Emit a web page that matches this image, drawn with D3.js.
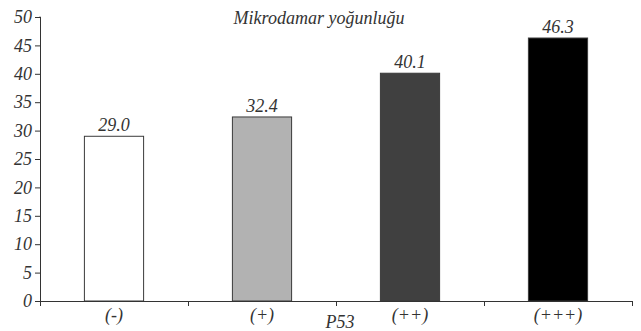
<!DOCTYPE html>
<html><head><meta charset="utf-8">
<script src="https://cdn.jsdelivr.net/npm/d3@7"></script>
<style>html,body{margin:0;padding:0;background:#fff;}</style>
</head><body>
<svg id="c" width="641" height="331"></svg>
<script>
const categories = ["(-)", "(+)", "(++)", "(+++)"];
const values = [29.0, 32.4, 40.1, 46.3];
const valueLabels = ["29.0", "32.4", "40.1", "46.3"];
const barColors = ["#ffffff", "#b2b2b2", "#404040", "#000000"];
const yTicks = [0, 5, 10, 15, 20, 25, 30, 35, 40, 45, 50];
const chartTitle = "Mikrodamar yoğunluğu";
const xTitle = "P53";

const svg = d3.select("#c");
const font = "'Liberation Serif', 'DejaVu Serif', serif";
const fs = 18;
const mLeft = 40, mRight = 632, mTop = 17, mBottom = 301;

const x = d3.scaleBand().domain(categories).range([mLeft, mRight]).paddingInner(0.6).paddingOuter(0.3);
const xb = d3.scaleBand().domain(categories).range([mLeft, mRight]);
const y = d3.scaleLinear().domain([0, 50]).range([mBottom, mTop]);

// bars
svg.selectAll("rect.bar").data(values).enter().append("rect")
  .attr("x", (d, i) => x(categories[i]))
  .attr("y", d => y(d))
  .attr("width", x.bandwidth())
  .attr("height", d => y(0) - y(d))
  .attr("fill", (d, i) => barColors[i])
  .attr("stroke", "#3a3a3a").attr("stroke-width", 1);

// value labels
svg.selectAll("text.val").data(values).enter().append("text")
  .attr("x", (d, i) => x(categories[i]) + x.bandwidth() / 2)
  .attr("y", d => y(d) - 5)
  .attr("text-anchor", "middle")
  .attr("font-family", font).attr("font-style", "italic").attr("font-size", fs)
  .attr("fill", "#333")
  .text((d, i) => valueLabels[i]);

// y axis
const yAxis = svg.append("g").attr("transform", `translate(${mLeft},0)`)
  .call(d3.axisLeft(y).tickValues(yTicks).tickSize(5).tickPadding(3).tickFormat(d3.format("d")));
yAxis.select(".domain").attr("stroke", "#333").attr("d", `M-0.5,${mTop}H0.5V${mBottom}`);
yAxis.selectAll(".tick line").attr("stroke", "#333");
yAxis.selectAll("text").attr("font-family", font).attr("font-style", "italic")
  .attr("font-size", fs).attr("fill", "#333");

// x axis line and ticks at band boundaries
const xg = svg.append("g");
xg.append("line").attr("x1", mLeft).attr("x2", mRight).attr("y1", mBottom + 0.5).attr("y2", mBottom + 0.5)
  .attr("stroke", "#333");
const bounds = categories.map(c => xb(c)).concat([mRight]);
xg.selectAll("line.t").data(bounds).enter().append("line")
  .attr("x1", d => d + 0.5).attr("x2", d => d + 0.5)
  .attr("y1", mBottom).attr("y2", mBottom + 5).attr("stroke", "#333");
xg.selectAll("text.cat").data(categories).enter().append("text")
  .attr("x", d => xb(d) + xb.bandwidth() / 2)
  .attr("y", 321)
  .attr("text-anchor", "middle")
  .attr("font-family", font).attr("font-style", "italic").attr("font-size", fs)
  .attr("fill", "#333")
  .text(d => d);

// titles
svg.append("text").attr("x", 319).attr("y", 24).attr("text-anchor", "middle")
  .attr("font-family", font).attr("font-style", "italic").attr("font-size", fs)
  .attr("fill", "#333").text(chartTitle);
svg.append("text").attr("x", 340).attr("y", 328).attr("text-anchor", "middle")
  .attr("font-family", font).attr("font-style", "italic").attr("font-size", fs)
  .attr("fill", "#333").text(xTitle);
</script>
</body></html>
